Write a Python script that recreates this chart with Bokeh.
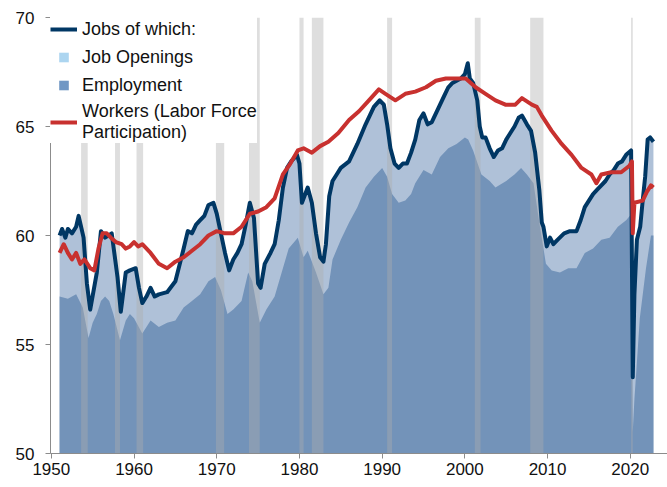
from bokeh.plotting import figure
from bokeh.models import Legend, LegendItem, Range1d, FixedTicker
from bokeh.embed import file_html
from bokeh.resources import INLINE

# ---------------- data ----------------
jobs_years = [1951.0, 1951.3, 1951.7, 1952.0, 1952.5, 1953.0, 1953.3, 1953.9, 1954.3, 1954.7,
              1955.5, 1956.0, 1956.5, 1957.3, 1958.0, 1958.4, 1959.0, 1959.5, 1960.2, 1960.6,
              1961.0, 1961.5, 1962.0, 1962.5, 1963.0, 1964.0, 1965.0, 1966.0, 1966.5, 1967.0,
              1967.5, 1968.0, 1968.5, 1969.0, 1969.6, 1970.0, 1970.5, 1971.0, 1971.5, 1972.0,
              1972.5, 1973.0, 1973.5, 1974.0, 1974.5, 1975.0, 1975.3, 1975.8, 1976.5, 1977.0,
              1977.5, 1978.0, 1978.5, 1979.0, 1979.7, 1980.0, 1980.3, 1980.6, 1981.0, 1981.5,
              1982.0, 1982.5, 1982.9, 1983.2, 1983.6, 1984.0, 1984.5, 1985.0, 1986.0, 1987.0,
              1988.0, 1989.0, 1989.7, 1990.2, 1990.6, 1991.0, 1991.5, 1992.0, 1992.5, 1993.0,
              1993.5, 1994.0, 1994.5, 1995.0, 1995.5, 1996.0, 1996.5, 1997.0, 1997.5, 1998.0,
              1998.5, 1999.0, 1999.5, 2000.0, 2000.35, 2000.6, 2001.0, 2001.5, 2001.8, 2002.1,
              2002.5, 2003.0, 2003.5, 2004.0, 2004.5, 2005.0, 2005.5, 2006.0, 2006.5, 2006.9,
              2007.5, 2008.0, 2008.5, 2009.0, 2009.3, 2009.5, 2009.9, 2010.3, 2010.7, 2011.2,
              2012.0, 2012.7, 2013.5, 2014.0, 2014.5, 2015.0, 2015.5, 2016.0, 2016.5, 2017.0,
              2017.5, 2018.0, 2018.5, 2019.0, 2019.5, 2020.1, 2020.3, 2020.5, 2020.8, 2021.2,
              2021.5, 2021.8, 2022.1, 2022.4, 2022.8]
jobs = [60.0, 60.3, 59.9, 60.3, 60.1, 60.4, 60.9, 59.9, 57.8, 56.6,
        58.3, 60.2, 59.9, 60.1, 58.1, 56.5, 58.3, 58.4, 58.5, 57.6,
        56.9, 57.2, 57.6, 57.2, 57.3, 57.4, 57.9, 59.4, 60.2, 60.1,
        60.5, 60.7, 60.9, 61.4, 61.5, 61.0, 60.1, 59.2, 58.4, 58.9,
        59.2, 59.6, 60.5, 61.5, 60.8, 57.8, 57.6, 58.7, 59.2, 59.6,
        60.7, 62.2, 63.1, 63.4, 63.7, 63.3, 61.5, 61.8, 62.2, 61.5,
        60.1, 59.0, 58.8, 59.6, 61.8, 62.5, 62.8, 63.1, 63.4, 64.2,
        65.1, 65.9, 66.2, 66.0, 65.1, 64.0, 63.3, 63.1, 63.3, 63.3,
        63.8, 64.4, 65.3, 65.6, 65.1, 65.2, 65.6, 66.0, 66.4, 66.8,
        67.0, 67.1, 67.2, 67.4, 67.9, 67.2, 67.0, 66.2, 65.0, 64.5,
        64.5, 64.0, 63.6, 63.9, 64.0, 64.4, 64.7, 65.0, 65.4, 65.5,
        65.1, 64.8, 63.8, 62.1, 60.6, 60.4, 59.5, 59.9, 59.6, 59.8,
        60.1, 60.2, 60.2, 60.7, 61.3, 61.6, 61.9, 62.1, 62.3, 62.5,
        62.8, 63.0, 63.3, 63.4, 63.7, 63.9, 53.5, 57.3, 59.8, 60.4,
        61.6, 62.7, 64.4, 64.5, 64.3]

emp_years = [1951.0, 1952.0, 1953.0, 1953.8, 1954.5, 1955.0, 1955.5, 1956.0, 1956.5, 1957.0,
             1957.5, 1958.3, 1959.0, 1959.5, 1960.0, 1961.0, 1962.0, 1963.0, 1964.0, 1965.0,
             1966.0, 1967.0, 1968.0, 1969.0, 1969.8, 1970.5, 1971.3, 1972.0, 1973.0, 1973.8,
             1974.3, 1975.2, 1976.0, 1977.0, 1978.0, 1978.7, 1979.8, 1980.5, 1981.0, 1982.0,
             1982.9, 1983.5, 1984.0, 1985.0, 1986.0, 1987.0, 1988.0, 1989.0, 1990.0, 1990.6,
             1991.2, 1992.0, 1992.8, 1993.5, 1994.0, 1995.0, 1996.0, 1997.0, 1998.0, 1999.0,
             2000.0, 2000.4, 2001.0, 2002.0, 2003.0, 2003.7, 2005.0, 2006.0, 2006.8, 2007.5,
             2008.3, 2009.0, 2009.8, 2010.5, 2011.5, 2012.5, 2013.5, 2014.5, 2015.5, 2016.5,
             2017.5, 2018.5, 2019.5, 2020.15, 2020.3, 2020.5, 2020.75, 2021.15, 2021.9, 2022.5,
             2022.8]
emp = [57.2, 57.1, 57.3, 56.7, 55.3, 56.0, 56.4, 57.0, 57.2, 57.0,
       56.4, 55.2, 56.1, 56.4, 56.2, 55.5, 56.1, 55.8, 56.0, 56.1,
       56.7, 57.0, 57.3, 57.9, 58.1, 57.5, 56.4, 56.6, 57.0, 58.3,
       57.9, 56.0, 56.6, 57.2, 58.5, 59.4, 59.9, 59.0, 59.3, 58.3,
       57.3, 57.6, 58.9, 59.8, 60.6, 61.3, 62.2, 62.7, 63.1, 62.7,
       61.9, 61.5, 61.6, 61.9, 62.4, 63.0, 62.8, 63.6, 64.0, 64.2,
       64.5, 64.4, 63.9, 62.8, 62.5, 62.2, 62.5, 62.8, 63.1, 62.8,
       62.4, 60.6, 58.7, 58.4, 58.3, 58.5, 58.5, 59.2, 59.4, 59.8,
       59.9, 60.4, 60.7, 61.0, 51.0, 52.5, 53.9, 56.2, 58.5, 60.0,
       60.0]

lfpr_years = [1951.0, 1951.5, 1952.0, 1952.5, 1953.0, 1953.5, 1954.0, 1954.7, 1955.2, 1955.7,
              1956.2, 1956.7, 1957.2, 1957.8, 1958.5, 1959.0, 1959.5, 1960.0, 1960.5, 1961.0,
              1962.0, 1963.0, 1964.0, 1965.0, 1966.0, 1967.0, 1968.0, 1969.0, 1970.0, 1971.0,
              1972.0, 1973.0, 1974.0, 1975.0, 1976.0, 1977.0, 1978.0, 1978.9, 1979.8, 1980.5,
              1981.5, 1982.5, 1983.5, 1984.7, 1986.0, 1987.2, 1988.4, 1989.6, 1990.4, 1991.6,
              1992.8, 1994.0, 1995.3, 1996.5, 1997.7, 1998.9, 2000.1, 2001.3, 2002.5, 2003.7,
              2004.9, 2006.1, 2006.9, 2008.1, 2008.7, 2009.3, 2010.5, 2011.7, 2012.9, 2014.1,
              2015.3, 2015.9, 2016.5, 2017.7, 2018.9, 2019.9, 2020.2, 2020.3, 2020.5, 2021.5,
              2022.0, 2022.5, 2022.8]
lfpr = [59.2, 59.6, 59.2, 58.9, 59.2, 58.7, 58.9, 58.5, 58.4, 59.4,
        60.1, 60.1, 59.9, 59.7, 59.6, 59.4, 59.5, 59.7, 59.5, 59.6,
        59.2, 58.7, 58.5, 58.8, 59.0, 59.3, 59.6, 60.0, 60.2, 60.1,
        60.1, 60.4, 61.0, 61.1, 61.3, 61.7, 62.8, 63.3, 63.9, 64.0,
        63.8, 64.1, 64.3, 64.7, 65.3, 65.7, 66.2, 66.7, 66.5, 66.2,
        66.5, 66.6, 66.8, 67.1, 67.2, 67.2, 67.2, 66.8, 66.5, 66.2,
        66.0, 66.0, 66.3, 66.0, 65.9, 65.5, 64.8, 64.2, 63.7, 63.1,
        62.8, 62.4, 62.8, 62.9, 62.9, 63.2, 63.4, 60.1, 61.5, 61.6,
        62.0, 62.3, 62.2]

rec_start = [1953.6, 1957.7, 1960.3, 1969.9, 1973.9, 1980.0, 1981.5, 1990.6, 2001.2, 2007.9, 2020.1]
rec_end   = [1954.4, 1958.3, 1961.1, 1970.9, 1975.2, 1980.5, 1982.9, 1991.2, 2001.9, 2009.5, 2020.3]

x_ticks = [1950, 1960, 1970, 1980, 1990, 2000, 2010, 2020]
y_ticks = [50, 55, 60, 65, 70]
y_min, y_max = 50, 70

# ---------------- figure ----------------
p = figure(width=667, height=487, output_backend="svg", toolbar_location=None,
           x_range=Range1d(1949.9, 2024.5), y_range=Range1d(y_min, y_max),
           min_border_left=50, min_border_right=0, min_border_top=17, min_border_bottom=34)
p.outline_line_color = None
p.xgrid.grid_line_color = None
p.ygrid.grid_line_color = None
p.background_fill_color = "white"
p.border_fill_color = "white"

light_c = "#afc1d8"
dark_c = "#7393b9"

p.varea(x=jobs_years, y1=[y_min] * len(jobs_years), y2=jobs, fill_color=light_c)
p.varea(x=emp_years, y1=[y_min] * len(emp_years), y2=emp, fill_color=dark_c)

p.quad(left=rec_start, right=rec_end, bottom=[y_min] * len(rec_start), top=[y_max] * len(rec_start),
       fill_color="#acacac", fill_alpha=0.4, line_color=None)

r_jobs = p.line(jobs_years, jobs, line_color="#003764", line_width=4, line_join="round")
r_lfpr = p.line(lfpr_years, lfpr, line_color="#c8312f", line_width=4, line_join="round")

# legend proxies (no visible data points)
nan = float("nan")
r_open = p.scatter([nan], [nan], marker="square", size=12, fill_color="#acd5f0", line_color=None)
r_emp = p.scatter([nan], [nan], marker="square", size=12, fill_color="#7097c4", line_color=None)

legend = Legend(items=[
    LegendItem(label="Jobs of which:", renderers=[r_jobs]),
    LegendItem(label="Job Openings", renderers=[r_open]),
    LegendItem(label="Employment", renderers=[r_emp]),
    LegendItem(label="Workers (Labor Force\nParticipation)", renderers=[r_lfpr]),
], location="top_left")
legend.margin = 0
legend.padding = 4
legend.spacing = 4
legend.glyph_width = 27
legend.glyph_height = 24
legend.label_height = 24
legend.label_standoff = 5
legend.label_text_font = "Liberation Sans"
legend.label_text_font_size = "18px"
legend.label_text_line_height = 1.3
legend.label_text_color = "#111111"
legend.border_line_color = None
legend.background_fill_color = "white"
legend.background_fill_alpha = 1.0
p.add_layout(legend)

for ax in (p.xaxis[0], p.yaxis[0]):
    ax.axis_line_color = "#8c8c8c"
    ax.major_tick_line_color = "#8c8c8c"
    ax.minor_tick_line_color = None
    ax.major_tick_out = 5
    ax.major_tick_in = 0
    ax.major_label_text_font = "Liberation Sans"
    ax.major_label_text_font_size = "17px"
    ax.major_label_text_color = "#111111"

p.xaxis[0].ticker = FixedTicker(ticks=x_ticks)
p.yaxis[0].ticker = FixedTicker(ticks=y_ticks)
p.xaxis[0].major_label_standoff = 4
p.yaxis[0].major_label_standoff = 11

open("out.html", "w").write(file_html(p, INLINE))
